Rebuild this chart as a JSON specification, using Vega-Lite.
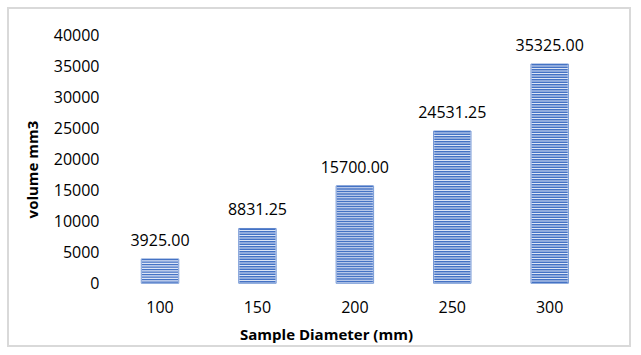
{
  "$schema": "https://vega.github.io/schema/vega-lite/v6.json",
  "width": 622,
  "height": 338,
  "autosize": {"type": "none"},
  "padding": {"left": 8, "top": 8, "right": 11, "bottom": 9},
  "background": "white",
  "config": {
    "view": {"stroke": "#d9d9d9", "strokeWidth": 2},
    "font": "Open Sans"
  },
  "data": {
    "values": [
      {"d": "100", "v": 3925},
      {"d": "150", "v": 8831.25},
      {"d": "200", "v": 15700},
      {"d": "250", "v": 24531.25},
      {"d": "300", "v": 35325}
    ]
  },
  "encoding": {
    "x": {
      "field": "d",
      "type": "ordinal",
      "sort": null,
      "scale": {"paddingInner": 0.615, "paddingOuter": 1.047, "align": 0.684},
      "axis": {
        "title": "Sample Diameter (mm)",
        "labelAngle": 0,
        "offset": -63,
        "domain": false,
        "ticks": false,
        "tickSize": 0,
        "grid": false,
        "labelFontSize": 16,
        "labelColor": "#000000",
        "labelBaseline": "middle",
        "labelPadding": 24,
        "titleFontSize": 15,
        "titleFontWeight": "bold",
        "titleColor": "#000000",
        "titleX": 318,
        "titleY": 51,
        "titleAlign": "center",
        "titleBaseline": "middle"
      }
    },
    "y": {
      "field": "v",
      "type": "quantitative",
      "scale": {"domain": [-10100, 44350], "nice": false, "zero": false},
      "axis": {
        "title": "volume mm3",
        "values": [0, 5000, 10000, 15000, 20000, 25000, 30000, 35000, 40000],
        "format": "d",
        "offset": -92,
        "domain": false,
        "ticks": false,
        "tickSize": 0,
        "grid": false,
        "labelFontSize": 16,
        "labelColor": "#000000",
        "labelPadding": 1,
        "titleFontSize": 15,
        "titleFontWeight": "bold",
        "titleColor": "#000000",
        "titleAngle": -90,
        "titleX": -68,
        "titleY": 161,
        "titleAlign": "center",
        "titleBaseline": "middle"
      }
    }
  },
  "layer": [
    {
      "mark": {"type": "bar", "fill": "#dce5f6", "stroke": "#7a9bd6", "strokeWidth": 1},
      "encoding": {"y2": {"datum": 0}}
    },
    {
      "mark": {"type": "rule", "strokeWidth": 36, "strokeDash": [1.4, 1.1], "color": "#4472c4"},
      "encoding": {"y2": {"datum": 0}}
    },
    {
      "mark": {"type": "text", "baseline": "middle", "dy": -18, "fontSize": 16, "color": "#000000"},
      "encoding": {"text": {"field": "v", "type": "quantitative", "format": ".2f"}}
    }
  ]
}
